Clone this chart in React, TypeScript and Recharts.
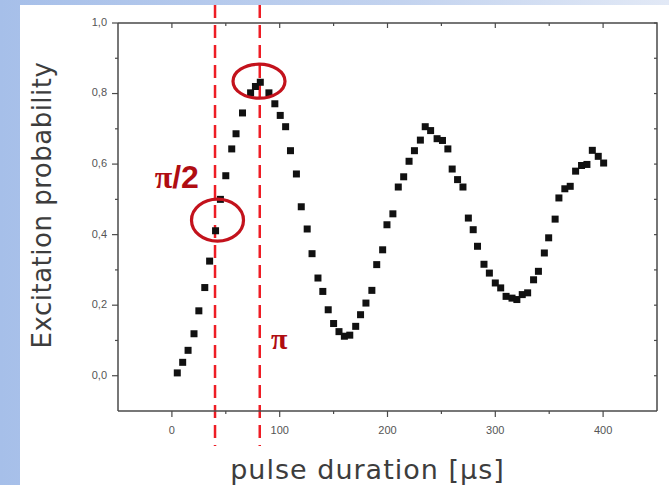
import React from "react";
import { ScatterChart, Scatter, XAxis, YAxis, ReferenceLine, ReferenceDot } from "recharts";

const pulseDuration = [
  5, 10, 15, 20.5, 25, 30.5, 35, 40.5, 45, 50, 55.5, 59.5, 65.5, 73, 77.5, 82, 90, 95.5, 100.5, 105.5,
  110, 115.5, 120, 125.5, 130, 135.5, 140, 145, 150, 155, 160, 165, 170.5, 175, 180, 185.5, 190, 195.5,
  199.5, 205, 210, 215, 220, 225, 230.5, 235, 240, 246, 251, 256, 260, 265, 270, 275, 279.5, 283.5,
  289.5, 294.5, 300, 305, 310, 315.5, 320, 325, 330, 335.5, 340, 345.5, 349.5, 355.5, 359, 364.5,
  369.5, 374.5, 380, 385, 390, 395.5, 400.5,
];
const excitation = [
  0.008, 0.038, 0.072, 0.119, 0.184, 0.25, 0.325, 0.411, 0.5, 0.567, 0.643, 0.686, 0.745, 0.802, 0.82,
  0.832, 0.802, 0.771, 0.738, 0.706, 0.638, 0.572, 0.479, 0.416, 0.346, 0.277, 0.239, 0.187, 0.148,
  0.125, 0.112, 0.115, 0.14, 0.173, 0.206, 0.242, 0.315, 0.357, 0.428, 0.459, 0.535, 0.564, 0.608,
  0.638, 0.668, 0.706, 0.695, 0.672, 0.667, 0.643, 0.586, 0.556, 0.535, 0.447, 0.414, 0.367, 0.316,
  0.291, 0.263, 0.249, 0.225, 0.22, 0.216, 0.23, 0.235, 0.272, 0.296, 0.348, 0.391, 0.444, 0.504,
  0.53, 0.537, 0.58, 0.596, 0.599, 0.639, 0.622, 0.603,
];

const xDomain = [-50, 450];
const yDomain = [-0.1, 1.0];
const xTicks = [0, 50, 100, 150, 200, 250, 300, 350, 400];
const yTicks = [0, 0.1, 0.2, 0.3, 0.4, 0.5, 0.6, 0.7, 0.8, 0.9, 1.0];

// pi/2 and pi pulse markers
const piHalfTime = 40;
const piTime = 81.5;

const data = pulseDuration.map((t, i) => ({ t, p: excitation[i] }));

const AXIS = "#4a4a4a";
const TICK_TEXT = "#555";
const MARK_RED = "#c3121c";

const CHART_W = 649;
const CHART_H = 480;
const MARGIN = { top: 18, right: 12, bottom: 0, left: 28 };
const Y_AXIS_W = 70;
const X_AXIS_H = 74;
const PLOT_LEFT = MARGIN.left + Y_AXIS_W;
const PLOT_RIGHT = CHART_W - MARGIN.right;

function BottomTick({ x, y, payload }: any) {
  const major = payload.value % 100 === 0;
  return (
    <g>
      <line x1={x} y1={y} x2={x} y2={y + (major ? 6 : 3)} stroke={AXIS} strokeWidth={1.2} />
      {major && (
        <text x={x} y={y + 20} textAnchor="middle" dominantBaseline="middle" fontSize={11} fill={TICK_TEXT} fontFamily="Liberation Sans, Arial, sans-serif">
          {payload.value}
        </text>
      )}
    </g>
  );
}

function LeftTick({ x, y, payload }: any) {
  const major = Math.round(payload.value * 10) % 2 === 0;
  return (
    <g>
      <line x1={x - (major ? 6 : 3)} y1={y} x2={x} y2={y} stroke={AXIS} strokeWidth={1.2} />
      {major && (
        <text x={x - 11} y={y} textAnchor="end" dominantBaseline="middle" fontSize={11} fill={TICK_TEXT} fontFamily="Liberation Sans, Arial, sans-serif">
          {payload.value.toFixed(1).replace(".", ",")}
        </text>
      )}
    </g>
  );
}

// plot frame (top + right edge, inward ticks); top/bottom come from the reference line's end points
function Frame(p: any) {
  const top = Math.min(p.y1, p.y2);
  const bottom = Math.max(p.y1, p.y2);
  const sx = (v: number) => PLOT_LEFT + ((v - xDomain[0]) / (xDomain[1] - xDomain[0])) * (PLOT_RIGHT - PLOT_LEFT);
  const sy = (v: number) => bottom - ((v - yDomain[0]) / (yDomain[1] - yDomain[0])) * (bottom - top);
  return (
    <g>
      <path d={`M${PLOT_LEFT},${top} L${PLOT_RIGHT},${top} L${PLOT_RIGHT},${bottom}`} fill="none" stroke={AXIS} strokeWidth={1.5} />
      {xTicks.map((v) => (
        <line key={`t${v}`} x1={sx(v)} y1={top} x2={sx(v)} y2={top + (v % 100 === 0 ? 5 : 3)} stroke={AXIS} strokeWidth={1.2} />
      ))}
      {yTicks.map((v) => (
        <line key={`r${v}`} x1={PLOT_RIGHT - 3} y1={sy(v)} x2={PLOT_RIGHT} y2={sy(v)} stroke={AXIS} strokeWidth={1.2} />
      ))}
    </g>
  );
}

// dashed marker lines run past the plot frame, like in the slide
function LongDash(p: any) {
  const top = Math.min(p.y1, p.y2);
  const bottom = Math.max(p.y1, p.y2);
  return (
    <line x1={p.x1} y1={top - 18} x2={p.x2} y2={bottom + 35} stroke="#ee1c24" strokeWidth={2.5} strokeDasharray="13 7" />
  );
}

const ellipse = (rx: number, ry: number) => (p: any) => (
  <ellipse cx={p.cx} cy={p.cy} rx={rx} ry={ry} fill="none" stroke={MARK_RED} strokeWidth={3.2} />
);

const redText = (main: string, rest: string, size: number) => (p: any) => (
  <text x={p.cx} y={p.cy} textAnchor="middle" dominantBaseline="central" fontSize={size} fontWeight="bold" fill="#b00d12" fontFamily="Liberation Sans, Arial, sans-serif">
    <tspan fontFamily="Liberation Serif, serif">{main}</tspan>
    {rest && <tspan>{rest}</tspan>}
  </text>
);

function Square(p: any) {
  return <rect x={p.cx - 3.5} y={p.cy - 3.5} width={7} height={7} fill="#111" />;
}

export default function App() {
  return (
    <div
      style={{
        position: "absolute",
        left: 0,
        top: 0,
        width: 669,
        height: 485,
        background: "linear-gradient(90deg, #a6bfe9 0%, #c3d3ef 60%, #e2e9f6 100%)",
        overflow: "hidden",
      }}
    >
      <div
        style={{
          position: "absolute",
          left: 20,
          top: 5,
          width: CHART_W,
          height: CHART_H,
          background: "#fff",
        }}
      >
        <ScatterChart width={CHART_W} height={CHART_H} margin={MARGIN}>
          <XAxis
            type="number"
            dataKey="t"
            domain={xDomain}
            ticks={xTicks}
            height={X_AXIS_H}
            tickSize={0}
            tickMargin={0}
            tick={<BottomTick />}
            axisLine={{ stroke: AXIS, strokeWidth: 1.5 }}
            tickLine={false}
            label={{
              value: "pulse duration [µs]",
              position: "center",
              dx: -20,
              dy: 21,
              style: { fontSize: 27, letterSpacing: 1, fill: "#3d3d3d", fontFamily: "DejaVu Sans, sans-serif" },
            }}
          />
          <YAxis
            type="number"
            dataKey="p"
            domain={yDomain}
            ticks={yTicks}
            width={Y_AXIS_W}
            tickSize={0}
            tickMargin={0}
            tick={<LeftTick />}
            axisLine={{ stroke: AXIS, strokeWidth: 1.5 }}
            tickLine={false}
            label={{
              value: "Excitation probability",
              position: "center",
              angle: -90,
              dx: -41,
              dy: -12,
              style: { fontSize: 26, letterSpacing: 0.5, fill: "#3d3d3d", fontFamily: "DejaVu Sans, sans-serif" },
            }}
          />
          <ReferenceLine x={piHalfTime} shape={Frame} />
          <Scatter data={data} shape={<Square />} isAnimationActive={false} />
          <ReferenceLine x={piHalfTime} shape={LongDash} />
          <ReferenceLine x={piTime} shape={LongDash} />
          <ReferenceDot x={42.3} y={0.441} shape={ellipse(26, 21)} />
          <ReferenceDot x={80.8} y={0.835} shape={ellipse(26, 17)} />
          <ReferenceDot x={4.5} y={0.562} shape={redText("π", "/2", 32)} />
          <ReferenceDot x={99.5} y={0.108} shape={redText("π", "", 30)} />
        </ScatterChart>
      </div>
    </div>
  );
}
